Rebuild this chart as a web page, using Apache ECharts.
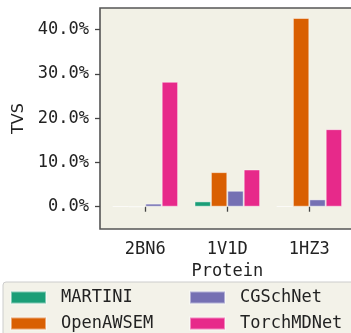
<!DOCTYPE html>
<html><head><meta charset="utf-8">
<script src="https://cdn.jsdelivr.net/npm/echarts@6/dist/echarts.min.js"></script>
<style>html,body{margin:0;padding:0;background:#fff}#c{width:351px;height:333px}</style>
</head><body><div id="c"></div>
<script>
const categories = ['2BN6', '1V1D', '1HZ3'];
const martini = [0.08, 1.2, 0.08];
const openawsem = [0.0, 7.8, 42.6];
const cgschnet = [0.7, 3.6, 1.65];
const torchmdnet = [28.2, 8.4, 17.5];
const yTicks = [0, 10, 20, 30, 40];
const seriesNames = ['MARTINI', 'OpenAWSEM', 'CGSchNet', 'TorchMDNet'];
const colors = ['#1b9e77', '#d95f02', '#7570b3', '#e7298a'];
const values = [martini, openawsem, cgschnet, torchmdnet];

const mono = 'DejaVu Sans Mono';
const fs = 17;
const legendPos = [[10, 289], [10, 315], [189, 289], [189, 315]];
const chart = echarts.init(document.getElementById('c'), null, {renderer: 'canvas'});
chart.setOption({
  animation: false,
  backgroundColor: '#ffffff',
  graphic: [
    {type: 'rect', z: -1, shape: {x: 100, y: 8, width: 300, height: 221},
     style: {fill: '#f2f1e6', stroke: '#555555', lineWidth: 1.6}},
    {type: 'rect', z: -1, shape: {x: 3, y: 282, width: 360, height: 70, r: 3},
     style: {fill: '#f3f2e9', stroke: '#cccccc', lineWidth: 1}}
  ],
  grid: {left: 104.3, right: 0.7, top: 8, bottom: 104, containLabel: false},
  xAxis: {
    type: 'category', data: categories,
    axisLine: {show: false},
    axisTick: {show: true, alignWithLabel: true, length: 5, lineStyle: {color: '#444', width: 1.3}},
    axisLabel: {margin: 12, fontFamily: mono, fontSize: fs, color: '#222'},
    name: 'Protein', nameLocation: 'middle', nameGap: 34,
    nameTextStyle: {fontFamily: mono, fontSize: fs, color: '#222'}
  },
  yAxis: {
    type: 'value', min: -5.03, max: 44.85, offset: 4.3,
    splitLine: {show: false},
    axisLine: {show: false},
    axisTick: {show: true, length: 5, customValues: yTicks, lineStyle: {color: '#444', width: 1.3}},
    axisLabel: {margin: 11, customValues: yTicks, fontFamily: mono, fontSize: fs, color: '#222',
      formatter: v => v.toFixed(1) + '%'},
    name: 'TVS', nameLocation: 'middle', nameRotate: 90, nameGap: 71,
    nameTextStyle: {fontFamily: 'DejaVu Sans', fontSize: 16, color: '#222'}
  },
  legend: seriesNames.map((n, i) => ({
    orient: 'horizontal', left: legendPos[i][0], top: legendPos[i][1], padding: 0, data: [n],
    itemWidth: 35, itemHeight: 12, icon: 'rect',
    textStyle: {fontFamily: mono, fontSize: fs, color: '#222', padding: [0, 0, 0, 10]}
  })),
  series: seriesNames.map((n, i) => ({
    name: n, type: 'bar', data: values[i], barGap: '0%', barCategoryGap: '20%',
    itemStyle: {color: colors[i], borderColor: 'rgba(255,255,255,0.45)', borderWidth: 1}
  }))
});
</script></body></html>
